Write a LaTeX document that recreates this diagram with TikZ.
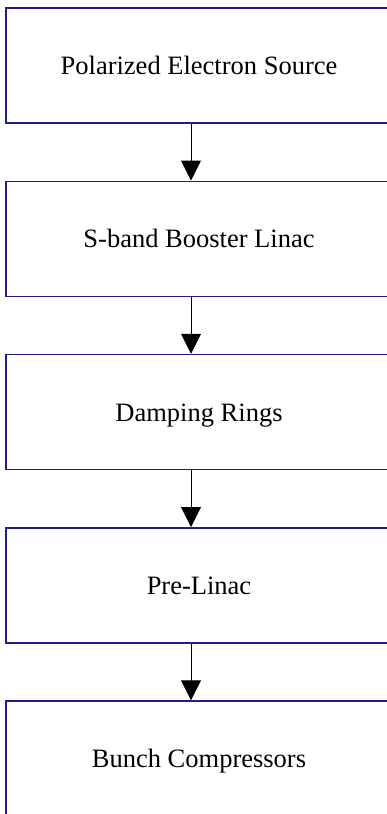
\documentclass[tikz,border=0pt]{standalone}
\usepackage{fontspec}
\setmainfont{Liberation Serif}
\usetikzlibrary{arrows.meta}
\definecolor{boxline}{RGB}{32,32,140}
\tikzset{
  stage/.style={draw=boxline, line width=1.5pt, minimum width=386pt,
    minimum height=115pt, inner sep=0pt, text height=18pt, text depth=0pt,
    font=\fontsize{26.5}{30}\selectfont},
  flow/.style={line width=1pt, -{Triangle[width=20pt,length=20pt]}}
}
\begin{document}
\begin{tikzpicture}[x=1pt,y=1pt]
      \useasboundingbox (0,0) rectangle (386,-814);
      \draw
        (199,-65.5) node[stage] (source){Polarized Electron Source}
        (199,-238.75) node[stage] (booster){S-band Booster Linac}
        (199,-412) node[stage] (rings){Damping Rings}
        (199,-585.25) node[stage] (prelinac){Pre-Linac}
        (199,-758.5) node[stage] (compressors){Bunch Compressors};
      \begin{scope}[flow]
        \draw ([xshift=-8pt]source.south) to ([xshift=-8pt]booster.north);
        \draw ([xshift=-8pt]booster.south) to ([xshift=-8pt]rings.north);
        \draw ([xshift=-8pt]rings.south) to ([xshift=-8pt]prelinac.north);
        \draw ([xshift=-8pt]prelinac.south) to ([xshift=-8pt]compressors.north);
      \end{scope}
    \end{tikzpicture}
\end{document}
